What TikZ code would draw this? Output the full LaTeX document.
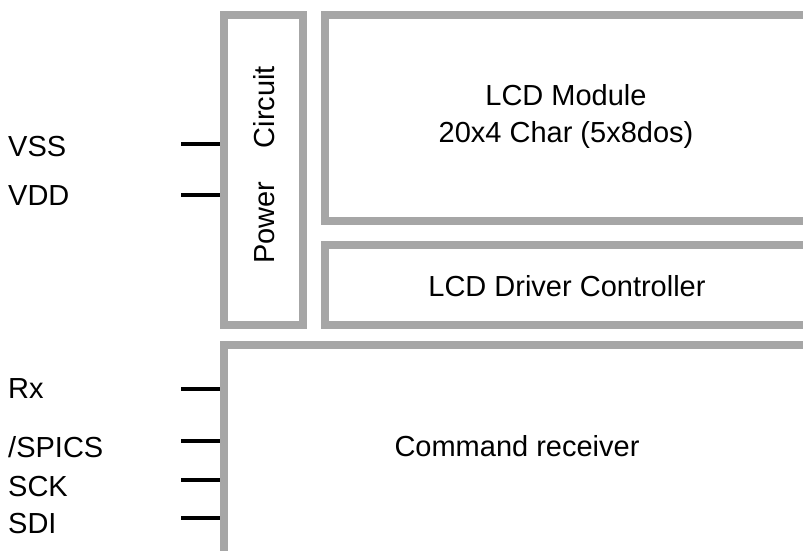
\documentclass[tikz,border=0pt]{standalone}
\usepackage{fontspec}
\setmainfont{Liberation Sans}
\usetikzlibrary{positioning}
\definecolor{framegray}{RGB}{166,166,166}

\begin{document}
\begin{tikzpicture}[
  x=1pt, y=-1pt,
  font=\fontsize{29}{37}\selectfont,
  frame/.style={draw=framegray, line width=8pt},
  blk/.style={align=center, inner sep=0pt},
  lbl/.style={anchor=base west, inner sep=0pt},
  pin/.style={draw=black, line width=3.5pt}
]
\useasboundingbox (0,0) rectangle (803,551);
% Power circuit
\node[frame, minimum width=79pt, minimum height=310pt, inner sep=0pt] (pwr) at (263.5,170) {};
\node[blk, rotate=90] (pwrtxt) at (264,165) {Power\hspace{1.15em}Circuit};
% LCD module and driver (open to the right)
\draw[frame] (803,15) -- (324.5,15) -- (324.5,221) -- (803,221);
\node[blk] (lcd) at (566,116) {LCD Module\\20x4 Char (5x8dos)};
\draw[frame] (803,245) -- (324.5,245) -- (324.5,325) -- (803,325);
\node[blk, anchor=base] (drv) at (567,296) {LCD Driver Controller};
% Command receiver (open to the right and bottom)
\draw[frame] (224,551) -- (224,345) -- (803,345);
\node[blk, anchor=base] (cmd) at (517,456) {Command receiver};
% pins
\foreach \name/\txt/\y/\b in {vss/VSS/144/156, vdd/VDD/195/205, rx/Rx/389/398, cs/{/SPICS}/441/457, sck/SCK/480/496, sdi/SDI/518/533} {
  \node[lbl] (\name) at (8,\b) {\txt};
  \coordinate (\name-a) at (181,\y);
  \coordinate (\name-b) at (220,\y);
  \draw[pin] (\name-a) -- (\name-b);
}
\end{tikzpicture}
\end{document}
